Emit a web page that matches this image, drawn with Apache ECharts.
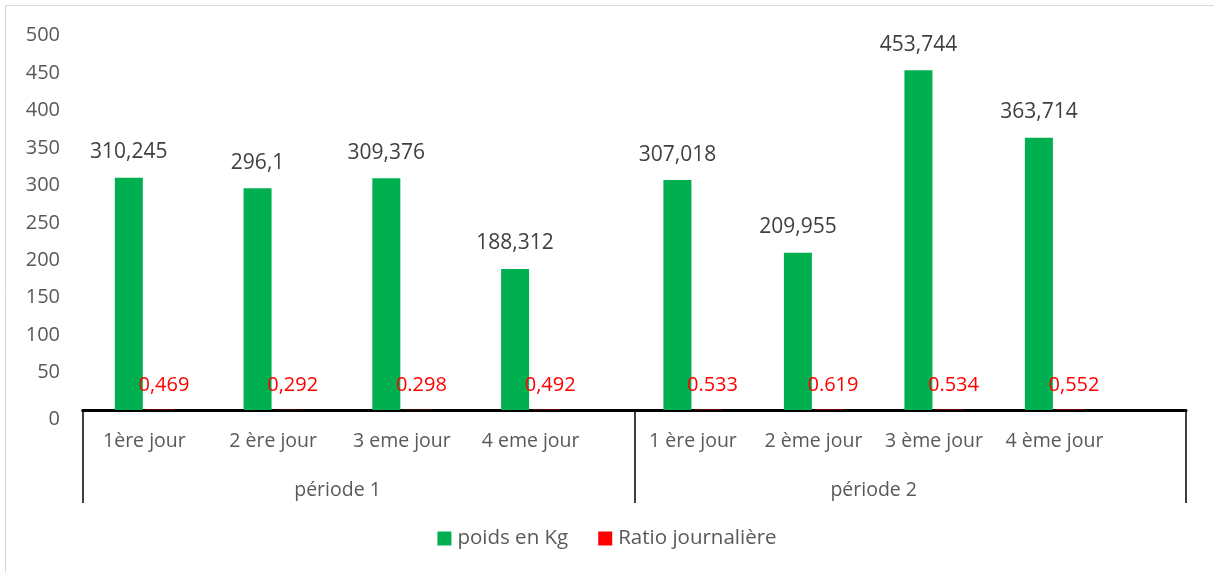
<!DOCTYPE html>
<html>
<head>
<meta charset="utf-8">
<script src="https://cdn.jsdelivr.net/npm/echarts@6/dist/echarts.min.js"></script>
<style>
html,body{margin:0;padding:0;background:#fff;}
#chart{width:1214px;height:573px;}
</style>
</head>
<body>
<div id="chart"></div>
<script>
const categories1 = ['1ère jour', '2 ère jour', '3 eme jour', '4 eme jour'];
const categories2 = ['1 ère jour', '2 ème jour', '3 ème jour', '4 ème jour'];
const periods = ['période 1', 'période 2'];
const poids1 = [310.245, 296.1, 309.376, 188.312];
const poids2 = [307.018, 209.955, 453.744, 363.714];
const ratio1 = [0.469, 0.292, 0.298, 0.492];
const ratio2 = [0.533, 0.619, 0.534, 0.552];
const ratioLabels1 = ['0,469', '0,292', '0.298', '0,492'];
const ratioLabels2 = ['0.533', '0.619', '0.534', '0,552'];
const yTicks = { min: 0, max: 500, interval: 50 };

const FONT = 'Open Sans';
const GREEN = '#00B050';
const RED = '#FF0000';
const TXT = '#595959';

const chart = echarts.init(document.getElementById('chart'), null, { renderer: 'canvas' });

const gridTop = 35.6, gridBottom = 163;
const grids = [
  { left: 80, width: 515, top: gridTop, bottom: gridBottom },
  { left: 632.7, width: 482, top: gridTop, bottom: gridBottom },
  { left: 82.7, right: 28, top: gridTop, bottom: gridBottom }
];

function catAxis(gridIndex, data) {
  return {
    type: 'category', gridIndex: gridIndex, data: data, position: 'bottom',
    axisLine: { show: false }, axisTick: { show: false },
    axisLabel: { interval: 0, color: TXT, fontFamily: FONT, fontSize: 19.5, margin: 21 }
  };
}
function periodAxis(gridIndex, name) {
  return {
    type: 'category', gridIndex: gridIndex, data: [name], position: 'bottom',
    axisLine: { show: false }, axisTick: { show: false },
    axisLabel: { interval: 0, color: TXT, fontFamily: FONT, fontSize: 19.5, margin: 70 }
  };
}
function yAxis(gridIndex, showLabels) {
  return {
    type: 'value', gridIndex: gridIndex, min: yTicks.min, max: yTicks.max, interval: yTicks.interval,
    axisLine: { show: false }, axisTick: { show: false }, splitLine: { show: false },
    axisLabel: {
      show: showLabels, color: TXT, fontFamily: FONT, fontSize: 20, margin: 20,
      formatter: function (v) { return v === 0 ? '{z|0}' : String(v); },
      rich: { z: { color: TXT, fontFamily: FONT, fontSize: 20, padding: [18, 0, 0, 0] } }
    }
  };
}

function poidsSeries(xi, yi, data) {
  return {
    name: 'poids en Kg', type: 'bar', xAxisIndex: xi, yAxisIndex: yi, data: data,
    barWidth: 28, barGap: '11%',
    itemStyle: { color: GREEN },
    label: {
      show: true, position: 'top', distance: 15, color: '#404040', fontFamily: FONT, fontSize: 21,
      formatter: function (p) { return String(p.value).replace('.', ','); }
    }
  };
}
function ratioSeries(xi, yi, data, labels) {
  return {
    name: 'Ratio journalière', type: 'bar', xAxisIndex: xi, yAxisIndex: yi, data: data,
    barWidth: 28, barGap: '11%',
    itemStyle: { color: RED },
    label: {
      show: true, position: 'top', distance: 14, offset: [4, 0], color: RED, fontFamily: FONT, fontSize: 20,
      formatter: function (p) { return labels[p.dataIndex]; }
    }
  };
}

const option = {
  animation: false,
  backgroundColor: '#fff',
  grid: grids,
  graphic: [{
    type: 'rect', shape: { x: 5.5, y: 5.5, width: 1230, height: 590 },
    style: { fill: 'none', stroke: '#D9D9D9', lineWidth: 1 }, silent: true, z: -10
  }],
  legend: {
    bottom: 19, left: 'center', itemWidth: 14, itemHeight: 14, itemGap: 30,
    icon: 'rect',
    data: ['poids en Kg', 'Ratio journalière'],
    textStyle: { color: TXT, fontFamily: FONT, fontSize: 20.5, padding: [0, 0, 0, 1] }
  },
  xAxis: [
    catAxis(0, categories1),
    catAxis(1, categories2),
    {
      type: 'category', gridIndex: 2, data: periods, position: 'bottom',
      axisLine: { show: true, lineStyle: { color: '#000', width: 3 } },
      axisTick: { show: true, length: 93, inside: false, lineStyle: { color: '#000', width: 1.5 } },
      axisLabel: { show: false }
    },
    periodAxis(0, periods[0]),
    periodAxis(1, periods[1])
  ],
  yAxis: [yAxis(0, true), yAxis(1, false), yAxis(2, false)],
  series: [
    poidsSeries(0, 0, poids1),
    ratioSeries(0, 0, ratio1, ratioLabels1),
    poidsSeries(1, 1, poids2),
    ratioSeries(1, 1, ratio2, ratioLabels2)
  ]
};
chart.setOption(option);
</script>
</body>
</html>
